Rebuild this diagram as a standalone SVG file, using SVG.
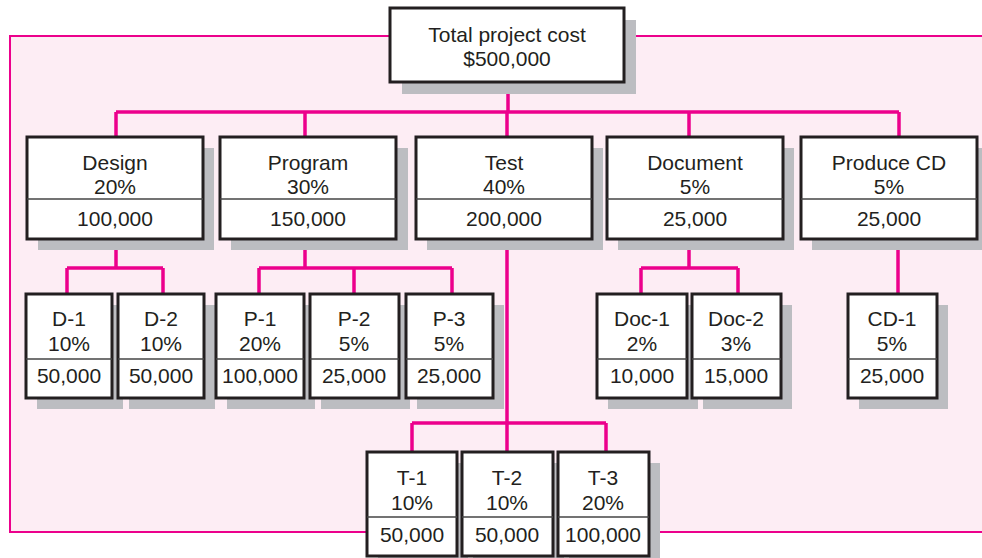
<svg xmlns="http://www.w3.org/2000/svg" width="982" height="558" viewBox="0 0 982 558">
<style>
.bg{fill:#FDEDF4;stroke:none}
.bgl{stroke:#EC008C;stroke-width:2;fill:none}
.sh{fill:#BCBDC1}
.bx{fill:#fff;stroke:#231F20;stroke-width:3}
.dv{stroke:#444;stroke-width:1.5}
.c{stroke:#EC008C;stroke-width:3.5;fill:none}
text{font-family:"Liberation Sans",Arial,sans-serif;font-size:21px;fill:#231F20;text-anchor:middle}
</style>
<rect class="bg" x="10" y="36" width="972" height="496"/>
<path class="bgl" d="M982,36 H10 V532 H982"/>
<g id="connectors">
<path class="c" d="M508,82 V112 M116,112 H899 M116,112 V137 M305,112 V137 M507,112 V137 M689,112 V137 M899,112 V137"/>
<path class="c" d="M116,239 V268 M67,268 H163 M67,268 V294 M163,268 V294"/>
<path class="c" d="M305,239 V268 M259,268 H452 M259,268 V294 M354,268 V294 M452,268 V294"/>
<path class="c" d="M689,239 V268 M641,268 H738 M641,268 V294 M738,268 V294"/>
<path class="c" d="M898,239 V294"/>
<path class="c" d="M507,239 V423 M412,423 H606 M412,423 V452 M507,423 V452 M606,423 V452"/>
</g>
<g id="top">
<rect class="sh" x="402" y="20" width="234" height="74"/>
<rect class="bx" x="390" y="8" width="234" height="74"/>
<text x="507" y="42">Total project cost</text>
<text x="507" y="66">$500,000</text>
</g>
<g id="design">
<rect class="sh" x="38" y="148" width="176" height="102"/>
<rect class="bx" x="27" y="137" width="176" height="102"/>
<line class="dv" x1="27" y1="199" x2="203" y2="199"/>
<text x="115" y="170">Design</text><text x="115" y="194">20%</text><text x="115" y="226">100,000</text>
</g>
<g id="program">
<rect class="sh" x="231" y="148" width="177" height="102"/>
<rect class="bx" x="220" y="137" width="176" height="102"/>
<line class="dv" x1="220" y1="199" x2="396" y2="199"/>
<text x="308" y="170">Program</text><text x="308" y="194">30%</text><text x="308" y="226">150,000</text>
</g>
<g id="test">
<rect class="sh" x="427" y="148" width="176" height="102"/>
<rect class="bx" x="416" y="137" width="176" height="102"/>
<line class="dv" x1="416" y1="199" x2="592" y2="199"/>
<text x="504" y="170">Test</text><text x="504" y="194">40%</text><text x="504" y="226">200,000</text>
</g>
<g id="document">
<rect class="sh" x="618" y="148" width="176" height="102"/>
<rect class="bx" x="607" y="137" width="176" height="102"/>
<line class="dv" x1="607" y1="199" x2="783" y2="199"/>
<text x="695" y="170">Document</text><text x="695" y="194">5%</text><text x="695" y="226">25,000</text>
</g>
<g id="producecd">
<rect class="sh" x="812" y="148" width="176" height="102"/>
<rect class="bx" x="801" y="137" width="176" height="102"/>
<line class="dv" x1="801" y1="199" x2="977" y2="199"/>
<text x="889" y="170">Produce CD</text><text x="889" y="194">5%</text><text x="889" y="226">25,000</text>
</g>
<g id="d1">
<rect class="sh" x="37" y="305" width="86" height="104"/>
<rect class="bx" x="26" y="294" width="86" height="104"/>
<line class="dv" x1="26" y1="359" x2="112" y2="359"/>
<text x="69" y="326">D-1</text><text x="69" y="351">10%</text><text x="69" y="383">50,000</text>
</g>
<g id="d2">
<rect class="sh" x="129" y="305" width="86" height="104"/>
<rect class="bx" x="118" y="294" width="86" height="104"/>
<line class="dv" x1="118" y1="359" x2="204" y2="359"/>
<text x="161" y="326">D-2</text><text x="161" y="351">10%</text><text x="161" y="383">50,000</text>
</g>
<g id="p1">
<rect class="sh" x="227" y="305" width="88" height="104"/>
<rect class="bx" x="216" y="294" width="88" height="104"/>
<line class="dv" x1="216" y1="359" x2="304" y2="359"/>
<text x="260" y="326">P-1</text><text x="260" y="351">20%</text><text x="260" y="383">100,000</text>
</g>
<g id="p2">
<rect class="sh" x="321" y="305" width="89" height="104"/>
<rect class="bx" x="310" y="294" width="89" height="104"/>
<line class="dv" x1="310" y1="359" x2="399" y2="359"/>
<text x="354" y="326">P-2</text><text x="354" y="351">5%</text><text x="354" y="383">25,000</text>
</g>
<g id="p3">
<rect class="sh" x="417" y="305" width="87" height="104"/>
<rect class="bx" x="406" y="294" width="87" height="104"/>
<line class="dv" x1="406" y1="359" x2="493" y2="359"/>
<text x="449" y="326">P-3</text><text x="449" y="351">5%</text><text x="449" y="383">25,000</text>
</g>
<g id="doc1">
<rect class="sh" x="608" y="305" width="90" height="104"/>
<rect class="bx" x="597" y="294" width="90" height="104"/>
<line class="dv" x1="597" y1="359" x2="687" y2="359"/>
<text x="642" y="326">Doc-1</text><text x="642" y="351">2%</text><text x="642" y="383">10,000</text>
</g>
<g id="doc2">
<rect class="sh" x="703" y="305" width="89" height="104"/>
<rect class="bx" x="692" y="294" width="89" height="104"/>
<line class="dv" x1="692" y1="359" x2="781" y2="359"/>
<text x="736" y="326">Doc-2</text><text x="736" y="351">3%</text><text x="736" y="383">15,000</text>
</g>
<g id="cd1">
<rect class="sh" x="859" y="305" width="89" height="104"/>
<rect class="bx" x="848" y="294" width="89" height="104"/>
<line class="dv" x1="848" y1="359" x2="937" y2="359"/>
<text x="892" y="326">CD-1</text><text x="892" y="351">5%</text><text x="892" y="383">25,000</text>
</g>
<g id="t1">
<rect class="sh" x="378" y="463" width="90" height="104"/>
<rect class="bx" x="367" y="452" width="90" height="104"/>
<line class="dv" x1="367" y1="517" x2="457" y2="517"/>
<text x="412" y="485">T-1</text><text x="412" y="510">10%</text><text x="412" y="542">50,000</text>
</g>
<g id="t2">
<rect class="sh" x="473" y="463" width="91" height="104"/>
<rect class="bx" x="462" y="452" width="91" height="104"/>
<line class="dv" x1="462" y1="517" x2="553" y2="517"/>
<text x="507" y="485">T-2</text><text x="507" y="510">10%</text><text x="507" y="542">50,000</text>
</g>
<g id="t3">
<rect class="sh" x="569" y="463" width="91" height="104"/>
<rect class="bx" x="558" y="452" width="91" height="104"/>
<line class="dv" x1="558" y1="517" x2="649" y2="517"/>
<text x="603" y="485">T-3</text><text x="603" y="510">20%</text><text x="603" y="542">100,000</text>
</g>
</svg>
